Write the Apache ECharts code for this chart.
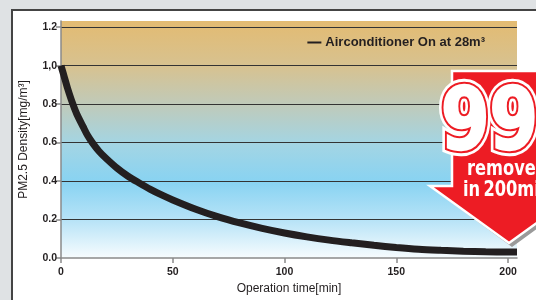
<!DOCTYPE html>
<html>
<head>
<meta charset="utf-8">
<script src="https://cdn.jsdelivr.net/npm/echarts@6/dist/echarts.min.js"></script>
<style>
html,body{margin:0;padding:0;background:#dfe2e4;}
#chart{width:536px;height:300px;}
</style>
</head>
<body>
<div id="chart"></div>
<script>
// operation time [min] and PM2.5 density [mg/m3]
var times = [0, 1, 2, 3, 5, 7, 10, 12, 14, 17, 20, 25, 30, 35, 40, 45, 50, 60, 70, 80, 90, 100, 110, 120, 130, 140, 150, 160, 170, 180, 190, 200, 204];
var density = [1.0, 0.96, 0.92, 0.88, 0.81, 0.75, 0.68, 0.635, 0.6, 0.555, 0.52, 0.468, 0.425, 0.39, 0.357, 0.328, 0.302, 0.255, 0.215, 0.182, 0.154, 0.13, 0.11, 0.093, 0.079, 0.066, 0.055, 0.046, 0.04, 0.035, 0.032, 0.031, 0.031];
var xTicks = [0, 50, 100, 150, 200];
var yTicks = [0, 0.2, 0.4, 0.6, 0.8, 1.0, 1.2];
var seriesName = 'Airconditioner On at 28m\u00b3';

var chart = echarts.init(document.getElementById('chart'));

var pts = [];
for (var i = 0; i < times.length; i++) {
    pts.push([times[i], density[i]]);
}

var narrow = '"Liberation Sans Narrow", "DejaVu Sans Condensed", "Liberation Sans", sans-serif';

// big "99" drawn in three layers: white outline, red ring, heavy white glyph
function bigText(z, fill, stroke, lw) {
    return {
        type: 'text', z: z, silent: true, x: 441, y: 170, scaleX: 0.86, scaleY: 0.95,
        style: {
            x: 0, y: 0, text: '99', verticalAlign: 'bottom',
            font: 'bold 90px ' + narrow,
            fill: fill, stroke: stroke, lineWidth: lw, lineJoin: 'round'
        }
    };
}

var option = {
    backgroundColor: 'transparent',
    animation: false,
    textStyle: { fontFamily: 'Liberation Sans, Arial, sans-serif' },
    graphic: [
        // white card with dark frame
        {
            type: 'rect', z: -10, silent: true,
            shape: { x: 12, y: 10, width: 600, height: 400 },
            style: { fill: '#fff', stroke: '#444', lineWidth: 2 }
        },
        // red arrow + shadow
        {
            type: 'polygon', z: 100, silent: true,
            shape: { points: [[455, 74], [570, 74], [570, 189], [591, 189], [512, 247], [433, 189], [455, 189]] },
            style: { fill: '#9a9a9a' }
        },
        {
            type: 'polygon', z: 101, silent: true,
            shape: { points: [[452, 71], [570, 71], [570, 186], [588, 186], [509, 243], [430, 186], [452, 186]] },
            style: { fill: '#ed1c24', stroke: '#fff', lineWidth: 2.5, lineJoin: 'miter' }
        },
        bigText(102, '#fff', '#fff', 13),
        bigText(103, '#ed1c24', '#ed1c24', 7),
        bigText(104, '#fff', '#fff', 2.5),
        {
            type: 'text', z: 105, silent: true, x: 467, y: 180, scaleX: 0.86,
            style: {
                x: 0, y: 0, text: 'removed', verticalAlign: 'bottom',
                font: 'bold 21px ' + narrow, fill: '#fff'
            }
        },
        {
            type: 'text', z: 105, silent: true, x: 463, y: 201, scaleX: 0.86,
            style: {
                x: 0, y: 0, text: 'in\u2009200min', verticalAlign: 'bottom',
                font: 'bold 21px ' + narrow, fill: '#fff'
            }
        }
    ],
    grid: {
        left: 61, right: 19, top: 21, bottom: 40,
        show: true, borderWidth: 0,
        backgroundColor: new echarts.graphic.LinearGradient(0, 0, 0, 1, [
            { offset: 0, color: '#e3bb72' },
            { offset: 0.19, color: '#d7c290' },
            { offset: 0.35, color: '#c0cab9' },
            { offset: 0.52, color: '#a3d5e4' },
            { offset: 0.68, color: '#88d3f2' },
            { offset: 0.84, color: '#b7e3f7' },
            { offset: 1, color: '#f7fcfe' }
        ])
    },
    legend: {
        right: 46, top: 31,
        itemWidth: 14, itemHeight: 2, itemGap: 4,
        icon: 'rect',
        itemStyle: { color: '#231f20' },
        textStyle: { fontSize: 13, fontWeight: 'bold', color: '#231f20', padding: [0, 0, 0, -1] },
        data: [seriesName]
    },
    xAxis: {
        type: 'value', min: 0, max: 204, interval: 50,
        name: 'Operation time[min]', nameLocation: 'middle', nameGap: 25,
        nameTextStyle: { fontSize: 12, color: '#231f20' },
        axisLine: { lineStyle: { color: '#8a8a8a', width: 1.5 } },
        axisTick: { show: true, length: 5, lineStyle: { color: '#8a8a8a', width: 1.5 }, customValues: xTicks },
        axisLabel: { fontSize: 10.5, fontWeight: 'bold', color: '#231f20', margin: 9, customValues: xTicks },
        splitLine: { show: false }
    },
    yAxis: {
        type: 'value', min: 0, max: 1.232, interval: 0.2,
        name: 'PM2.5 Density[mg/m\u00b3]', nameLocation: 'middle', nameGap: 31,
        nameTextStyle: { fontSize: 12, color: '#231f20' },
        axisLine: { show: true, lineStyle: { color: '#8a8a8a', width: 1.5 } },
        axisTick: { show: true, length: 5, lineStyle: { color: '#8a8a8a', width: 1.5 }, customValues: yTicks },
        axisLabel: {
            fontSize: 10.5, fontWeight: 'bold', color: '#231f20', margin: 4,
            customValues: yTicks,
            formatter: function (v) {
                if (Math.abs(v - 1) < 1e-6) return '1,0';
                return v.toFixed(1);
            }
        },
        splitLine: { show: true, showMinLine: false, showMaxLine: true, lineStyle: { color: '#333', width: 1.2 } }
    },
    series: [{
        name: seriesName,
        type: 'line',
        data: pts,
        smooth: 0.3,
        symbol: 'none',
        lineStyle: { color: '#231f20', width: 7, cap: 'butt' },
        itemStyle: { color: '#231f20' },
        z: 5
    }]
};

chart.setOption(option);
</script>
</body>
</html>
